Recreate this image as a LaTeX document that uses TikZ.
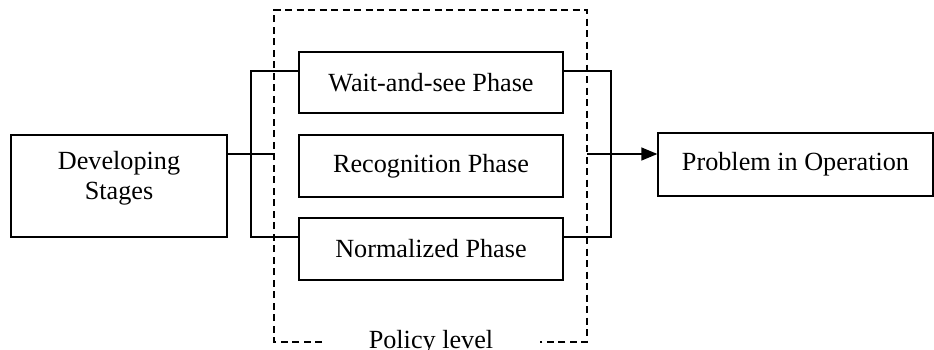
\documentclass[tikz,border=0pt]{standalone}
\usepackage{fontspec}
\setmainfont{Liberation Serif}
\usetikzlibrary{arrows.meta}
\begin{document}
\begin{tikzpicture}[x=1bp,y=-1bp,
  every node/.style={font=\fontsize{26.3}{30}\selectfont},
  box/.style={draw,line width=1.3bp,rectangle,inner sep=0pt,align=center},
  link/.style={line width=1.3bp},
  policy/.style={line width=1.2bp,dash pattern=on 7bp off 4.5bp}]
\useasboundingbox (0,0) rectangle (934,349);

% stage boxes
\node[box,minimum width=216bp,minimum height=102bp] (dev) at (119,186) {};
\node[align=center] (devtext) at (119,178) {Developing\\Stages};
\node[box,minimum width=264bp,minimum height=61bp] (wait) at (431,82.5) {Wait-and-see Phase};
\node[box,minimum width=264bp,minimum height=62bp] (recog) at (431,166) {Recognition Phase};
\node[box,minimum width=264bp,minimum height=62bp] (norm) at (431,249) {Normalized Phase};
\node[box,minimum width=275bp,minimum height=63bp] (prob) at (795.5,164.5) {Problem in Operation};

% policy level frame
\coordinate (pl1) at (322,342);
\coordinate (pl2) at (274,342);
\coordinate (pl3) at (274,10);
\coordinate (pl4) at (587,10);
\coordinate (pl5) at (587,342);
\coordinate (pl6) at (540,342);
\draw[policy] (pl1) -- (pl2) -- (pl3) -- (pl4) -- (pl5) -- (pl6);
\node[anchor=base] (pol) at (431,348) {Policy level};

% left bracket
\coordinate (lbt) at (251,71);
\coordinate (lbb) at (251,237);
\draw[link] (wait.west |- lbt) -- (lbt) -- (lbb) -- (norm.west |- lbb);
\coordinate (din) at (275,154);
\draw[link] (dev.east |- din) -- (din);

% right bracket
\coordinate (rbt) at (611,71);
\coordinate (rbb) at (611,237);
\draw[link] (wait.east |- rbt) -- (rbt) -- (rbb) -- (norm.east |- rbb);
\coordinate (aout) at (587,154);
\draw[link,-{Triangle[length=16bp,width=13bp]}] (aout) -- (prob.west |- aout);
\end{tikzpicture}
\end{document}
